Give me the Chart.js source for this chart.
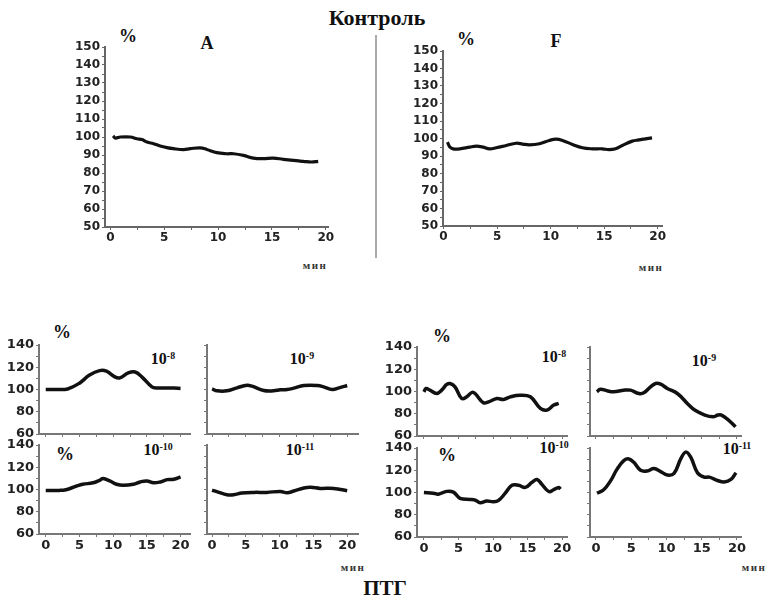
<!DOCTYPE html>
<html lang="ru">
<head>
  <meta charset="UTF-8" />
  <title>Контроль / ПТГ</title>
  <script src="https://cdn.jsdelivr.net/npm/chart.js"></script>
  <style>
    body { margin: 0; background: #fff; }
    #page { position: relative; width: 769px; height: 600px; overflow: hidden; }
    canvas { position: absolute; }
    .t { position: absolute; font-family: "Liberation Serif", "Times New Roman", serif; font-weight: bold;
         color: #111; transform: translate(-50%, -50%); white-space: nowrap; line-height: 1; }
    .t sup { font-size: 62%; vertical-align: 0.55em; }
    .pc { font-size: 18px; }
    .ex { font-size: 16px; }
    .unit { font-size: 11px; letter-spacing: 1.5px; color: #333; }
    #divider { position: absolute; left: 375px; top: 35px; width: 2px; height: 223px; background: #aaa; }
  </style>
</head>
<body>
<div id="page">
  <div class="t" style="left:377px;top:18px;font-size:22px">Контроль</div>
  <div id="divider"></div>

  <div class="t pc" style="left:128px;top:36px">%</div>
  <div class="t" style="left:207px;top:43px;font-size:18px">A</div>
  <div class="t unit" style="left:315px;top:265px">мин</div>

  <div class="t pc" style="left:466px;top:39px">%</div>
  <div class="t" style="left:556px;top:41px;font-size:18px">F</div>
  <div class="t unit" style="left:651px;top:267px">мин</div>

  <div class="t pc" style="left:62px;top:332px">%</div>
  <div class="t pc" style="left:65px;top:454px">%</div>
  <div class="t ex" style="left:163px;top:359px">10<sup>-8</sup></div>
  <div class="t ex" style="left:302px;top:359px">10<sup>-9</sup></div>
  <div class="t ex" style="left:158px;top:450px">10<sup>-10</sup></div>
  <div class="t ex" style="left:300px;top:450px">10<sup>-11</sup></div>
  <div class="t unit" style="left:353px;top:567px">мин</div>

  <div class="t pc" style="left:442px;top:336px">%</div>
  <div class="t pc" style="left:447px;top:455px">%</div>
  <div class="t ex" style="left:554px;top:357px">10<sup>-8</sup></div>
  <div class="t ex" style="left:704px;top:361px">10<sup>-9</sup></div>
  <div class="t ex" style="left:554px;top:448px">10<sup>-10</sup></div>
  <div class="t ex" style="left:737px;top:449px">10<sup>-11</sup></div>
  <div class="t unit" style="left:754px;top:567px">мин</div>

  <div class="t" style="left:385px;top:588px;font-size:21px">ПТГ</div>
</div>

<script>
  // Контроль, A
  const timeA = [0.25, 0.46, 0.93, 1.85, 2.47, 2.93, 3.4, 4.01, 4.63, 5.25, 5.86, 6.79, 7.41, 8.33, 8.95, 9.88, 10.8, 11.42, 12.35, 13.27, 14.2, 15.12, 16.05, 16.98, 17.9, 18.67, 19.29];
  const valA  = [100.6, 99.4, 100, 100, 99, 98.6, 97.2, 96.3, 95, 94.1, 93.5, 93, 93.5, 94, 93.1, 91.3, 90.7, 90.7, 89.8, 88.3, 88, 88.3, 87.6, 87, 86.5, 86.1, 86.5];
  // Контроль, F
  const timeF = [0.37, 0.59, 0.9, 1.52, 2.45, 3.07, 3.68, 4.3, 4.92, 5.85, 6.78, 7.4, 8.02, 8.95, 9.88, 10.5, 11.11, 12.04, 12.97, 13.9, 14.83, 15.45, 16.07, 16.69, 17.62, 18.24, 18.85, 19.47];
  const valF  = [97.9, 95.1, 94.1, 94.1, 95.1, 95.6, 95.1, 94.1, 94.7, 96, 97.3, 96.8, 96.4, 97, 98.9, 99.6, 98.9, 96.6, 94.7, 94.1, 94.1, 93.6, 94.1, 96, 98.5, 99.2, 99.8, 100.4];

  // ПТГ, left group
  const timeL8  = [0, 1.5, 3.25, 5, 6.5, 8, 9, 10.25, 11, 12.25, 13.25, 14.25, 15.75, 16.5, 19, 20];
  const valL8   = [100, 100, 100.5, 105.7, 113, 117, 116.5, 111.4, 110.5, 114.9, 115.7, 111.4, 102.3, 101.4, 101.4, 101];
  const timeL9  = [0, 0.74, 2.2, 3.7, 5.2, 5.9, 7.65, 9.1, 10.1, 11.1, 12.1, 13.6, 15.6, 16.5, 17.8, 18.8, 20];
  const valL9   = [100.6, 98.8, 98.8, 101.5, 103.9, 103, 99.1, 98.8, 99.7, 100, 101.2, 103.6, 103.6, 102.4, 100, 101.5, 103.6];
  const timeL10 = [0, 2, 3, 4.5, 5.5, 7, 8, 8.5, 9.5, 10.5, 11.5, 13, 14, 15, 16, 17, 18, 19, 20];
  const valL10  = [99.2, 99.2, 99.8, 102.9, 104.7, 106, 108.3, 109.8, 107.7, 104.7, 103.8, 104.7, 106.8, 107.7, 106, 106.8, 108.9, 109.2, 111.3];
  const timeL11 = [0, 1, 2.2, 3.2, 4.4, 6.2, 8.1, 10.1, 11.1, 12.1, 13.6, 14.6, 16, 18, 20];
  const valL11  = [99.5, 97.4, 95.3, 95.3, 96.8, 97.4, 97.4, 98.3, 97.1, 98.6, 101.4, 102, 101, 101, 98.9];

  // ПТГ, right group
  const timeR8  = [0, 0.3, 0.87, 1.84, 2.57, 3.3, 3.78, 4.5, 5.47, 6.2, 6.93, 7.4, 8.6, 9.35, 10.56, 11.5, 12.5, 13.9, 15.4, 16.85, 17.8, 18.8, 19.5];
  const valR8   = [99.7, 102.7, 101.2, 98.2, 101.2, 106.3, 107.2, 104.2, 93.7, 95.2, 99.1, 98.2, 89.9, 90.7, 93.7, 92.8, 95.2, 96.7, 95.2, 84.8, 83.3, 87.8, 89.3];
  const timeR9  = [0.14, 0.62, 1.57, 2.52, 3.94, 4.89, 6.08, 6.79, 7.74, 8.46, 9.17, 10.12, 11.54, 13.06, 14.0, 15.44, 16.6, 17.3, 17.8, 18.8, 19.8];
  const valR9   = [99.7, 102.1, 100.6, 99.7, 101.2, 101.2, 98.2, 98.8, 104.2, 107.2, 106.6, 102.7, 98.2, 88.6, 83.3, 78.8, 77.3, 78.8, 78.8, 74.3, 68.3];
  const timeR10 = [0, 1.36, 2.08, 3.3, 4.26, 5.23, 6.68, 7.41, 8.14, 9.1, 10.07, 10.8, 11.77, 12.74, 13.7, 14.67, 15.64, 16.37, 17.1, 18.06, 18.79, 19.52, 19.76];
  const valR10  = [100, 99.4, 98.5, 101, 100.3, 94.8, 93.8, 93.2, 90.8, 92.3, 91.7, 92.9, 99.4, 106.5, 106.5, 104.6, 109.2, 111.7, 107.1, 100.9, 102.5, 104.6, 103];
  const timeR11 = [0.14, 1.09, 2.04, 2.99, 3.94, 4.66, 5.37, 6.32, 7.27, 8.22, 9.17, 10.12, 11.07, 12.02, 12.73, 13.44, 14.39, 15.34, 16.06, 17.24, 18.19, 19.14, 19.86];
  const valR11  = [99.4, 102.5, 110.2, 121, 128.6, 130.2, 127.1, 120, 119.4, 121.5, 118.8, 115.7, 117.2, 130.2, 136.3, 131.7, 117.8, 113.8, 113.8, 110.8, 109.5, 111.7, 117.8];

  const page = document.getElementById("page");
  const YW = 40, PT = 10, PR = 16, XH = 24;

  // one small chart per panel; box = plot area in page pixels
  function panel(box, xr, yr, xs, ys, o) {
    const cv = document.createElement("canvas");
    const w = box.r - box.l + YW + PR, h = box.b - box.t + PT + XH;
    cv.width = w; cv.height = h;
    cv.style.left = (box.l - YW) + "px";
    cv.style.top = (box.t - PT) + "px";
    cv.style.width = w + "px";
    cv.style.height = h + "px";
    page.appendChild(cv);

    const font = { family: "DejaVu Sans", weight: "bold", size: o.fs };
    new Chart(cv, {
      type: "line",
      data: {
        datasets: [{
          data: xs.map((x, i) => ({ x: x, y: ys[i] })),
          borderColor: "#111",
          borderWidth: o.lw,
          pointRadius: 0,
          tension: 0.4,
          fill: false
        }]
      },
      options: {
        responsive: false,
        animation: false,
        events: [],
        layout: { padding: { left: 0, top: PT, right: PR, bottom: 0 } },
        plugins: { legend: { display: false }, tooltip: { enabled: false } },
        scales: {
          x: {
            type: "linear", min: xr[0], max: xr[1],
            border: { display: true, color: o.ax, width: 2 },
            grid: { drawOnChartArea: false, drawTicks: true, tickLength: 3, color: o.ax },
            ticks: {
              display: o.xLab, stepSize: 2.5, includeBounds: false, autoSkip: false,
              maxRotation: 0, padding: 1, color: "#222", font: font,
              callback: v => (v % 5 === 0 ? v : "")
            },
            afterFit: s => { s.height = XH; s.paddingLeft = 0; s.paddingRight = 0; }
          },
          y: {
            type: "linear", min: yr[0], max: yr[1],
            border: { display: true, color: o.ax, width: 2 },
            grid: { drawOnChartArea: false, drawTicks: true, tickLength: 3, color: o.ax },
            ticks: {
              display: o.yLab, stepSize: yr[2] / 2, includeBounds: false, autoSkip: false,
              padding: 2, color: "#222", font: font,
              callback: v => (v % yr[2] === 0 ? v : "")
            },
            afterFit: s => { s.width = YW; s.paddingTop = 0; s.paddingBottom = 0; }
          }
        }
      }
    });
  }

  const big = { fs: 12, lw: 3.2, ax: "#666", xLab: true, yLab: true };
  panel({ l: 105, r: 328, t: 47, b: 227 }, [-0.5, 20.2], [50, 150, 10], timeA, valA, big);
  panel({ l: 443, r: 662, t: 51, b: 226 }, [-0.05, 20.4], [50, 150, 10], timeF, valF, big);

  const sm = (xLab, yLab) => ({ fs: 13, lw: 3.5, ax: "#777", xLab: xLab, yLab: yLab });
  const yS = [60, 140, 20];
  panel({ l: 39, r: 190, t: 345, b: 434 }, [-1, 21.4], yS, timeL8, valL8, sm(false, true));
  panel({ l: 207, r: 358, t: 345, b: 434 }, [-0.75, 21.6], yS, timeL9, valL9, sm(false, false));
  panel({ l: 39, r: 190, t: 445, b: 534 }, [-1, 21.4], yS, timeL10, valL10, sm(true, true));
  panel({ l: 207, r: 358, t: 445, b: 534 }, [-0.75, 21.6], yS, timeL11, valL11, sm(true, false));

  panel({ l: 417, r: 567, t: 347, b: 436 }, [-1, 20.7], yS, timeR8, valR8, sm(false, true));
  panel({ l: 590, r: 741, t: 347, b: 436 }, [-0.85, 20.57], yS, timeR9, valR9, sm(false, false));
  panel({ l: 417, r: 567, t: 448, b: 537 }, [-1, 20.7], yS, timeR10, valR10, sm(true, true));
  panel({ l: 590, r: 741, t: 448, b: 537 }, [-0.85, 20.57], yS, timeR11, valR11, sm(true, false));
</script>
</body>
</html>
